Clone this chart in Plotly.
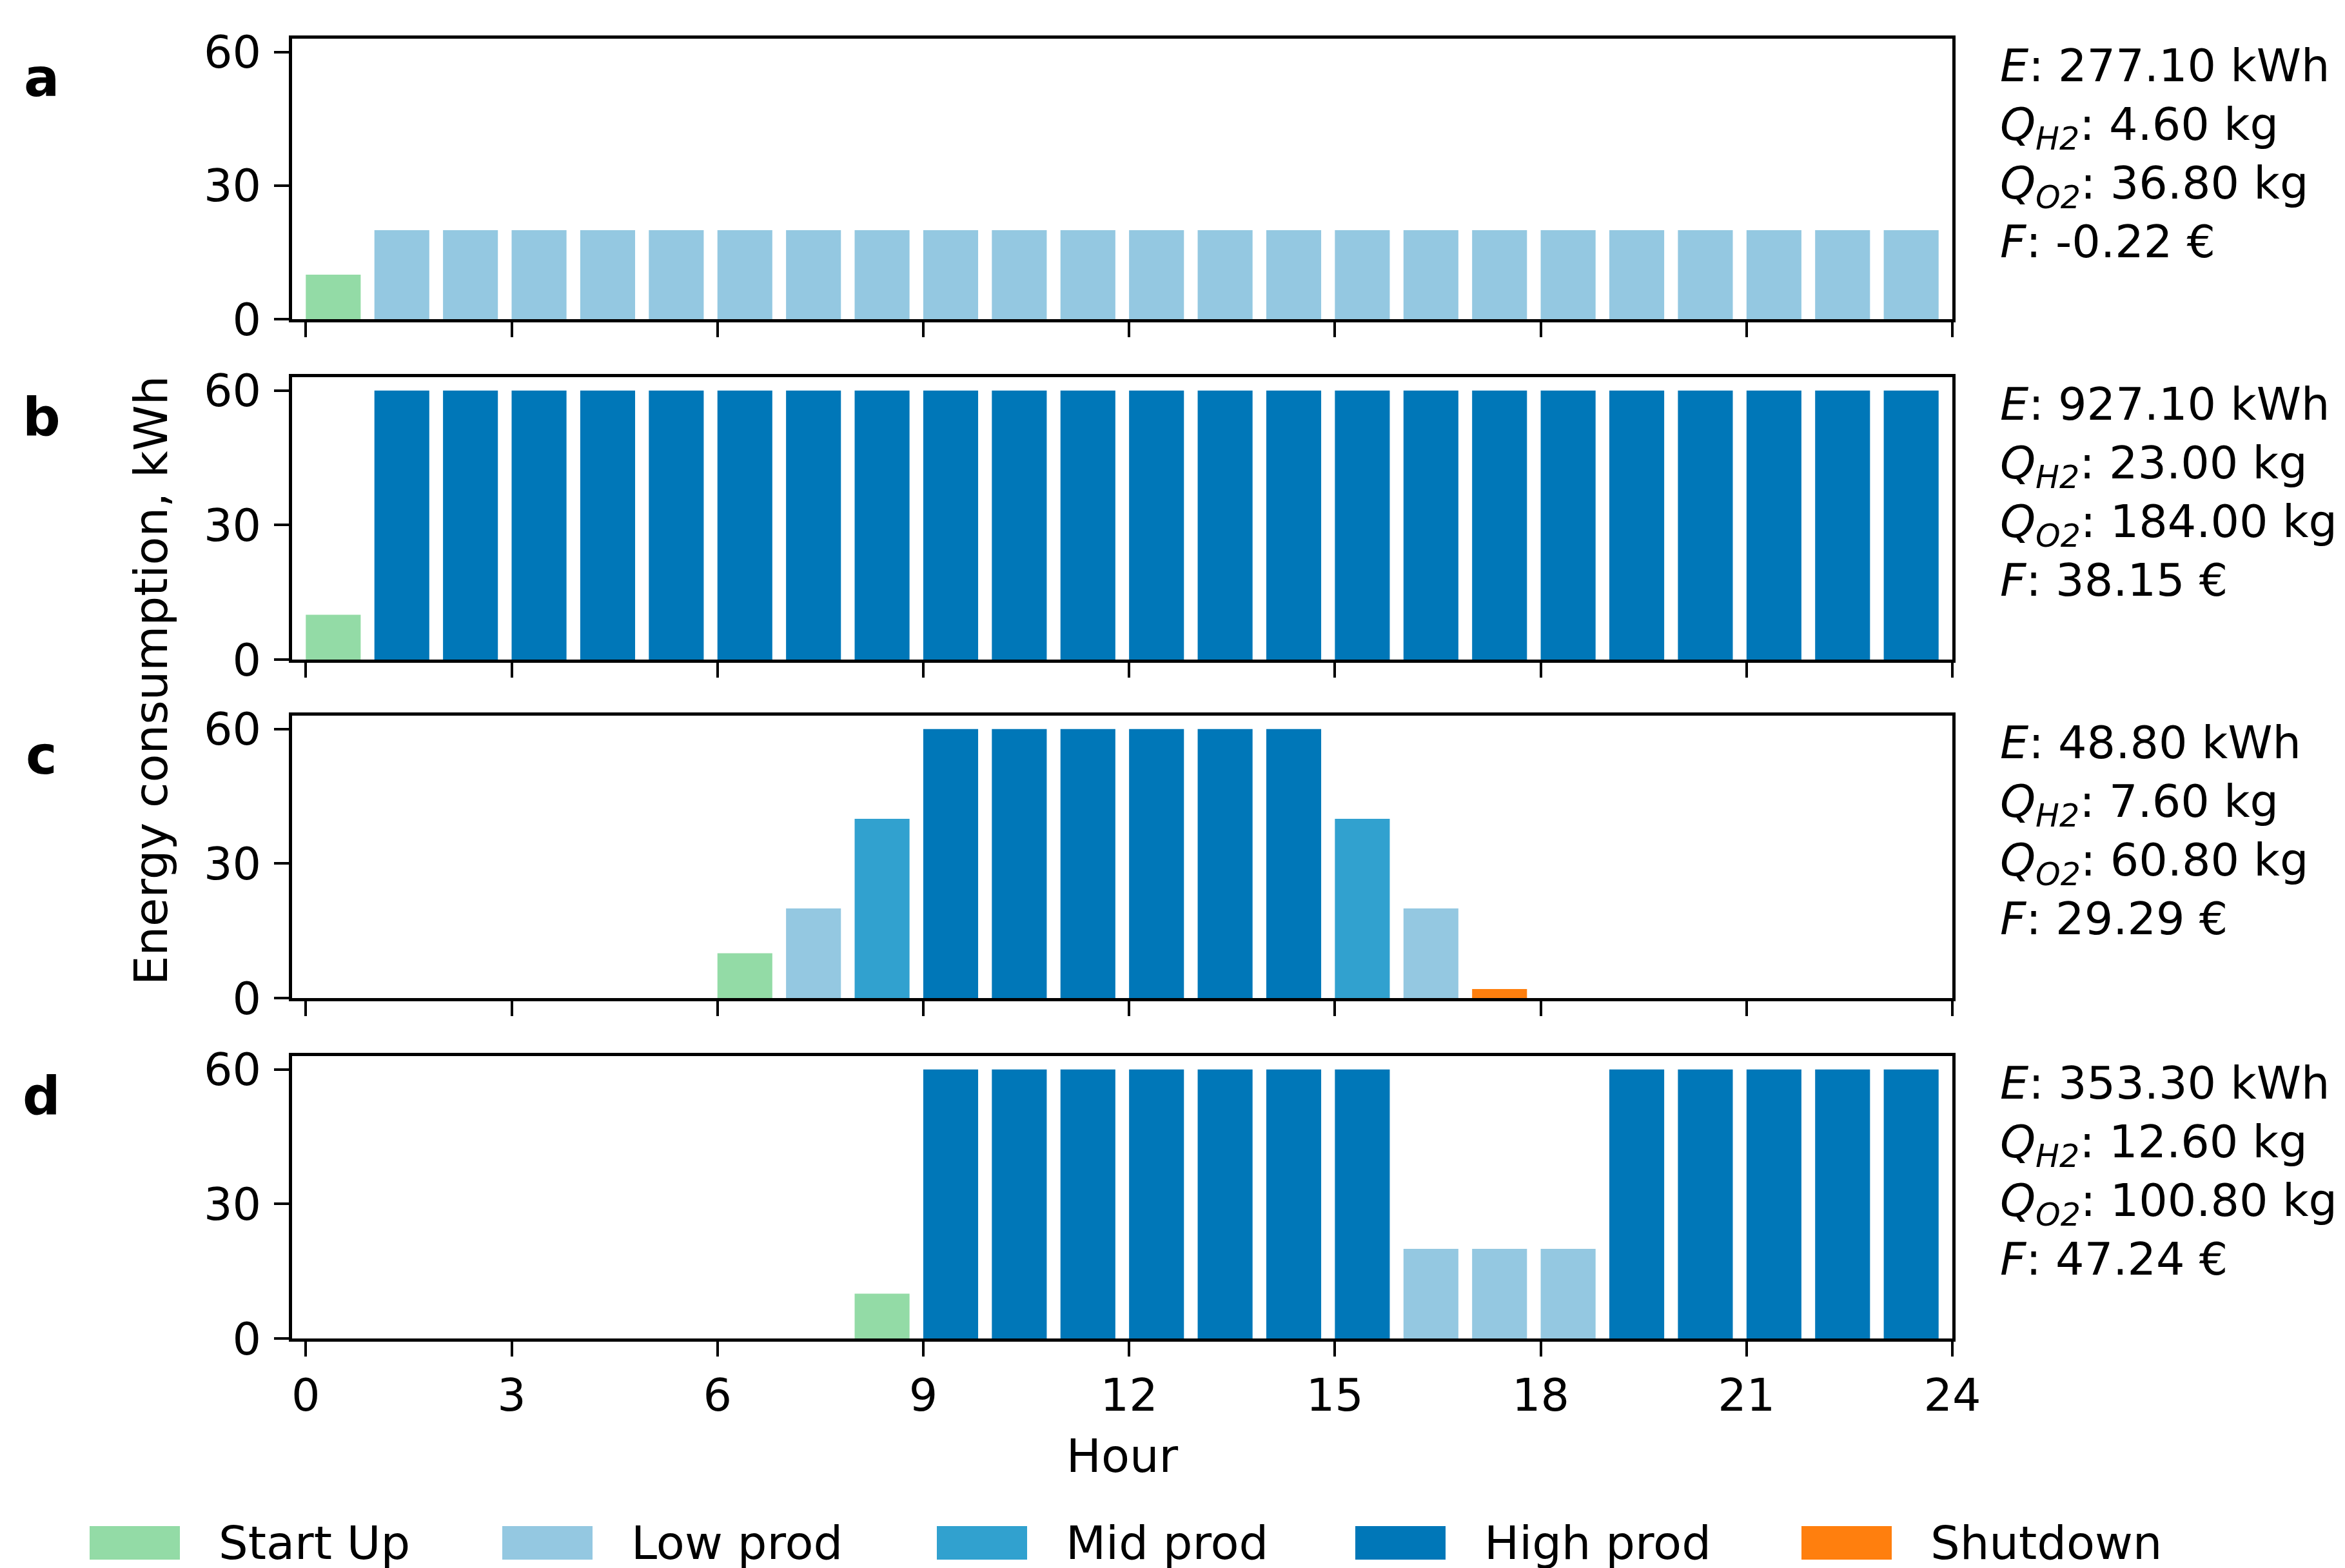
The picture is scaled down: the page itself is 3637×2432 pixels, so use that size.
import plotly.graph_objects as go

# ---------------- data ----------------
hours = list(range(24))
panel_letters = ["a", "b", "c", "d"]

state_names = ["Start Up", "Low prod", "Mid prod", "High prod", "Shutdown"]
state_codes = ["SU", "LP", "MP", "HP", "SD"]
state_colors = ["#93dba6", "#94c8e1", "#31a1cf", "#0077b8", "#ff7f0e"]

energy_a = [10, 20, 20, 20, 20, 20, 20, 20, 20, 20, 20, 20,
            20, 20, 20, 20, 20, 20, 20, 20, 20, 20, 20, 20]
state_a = ["SU", "LP", "LP", "LP", "LP", "LP", "LP", "LP", "LP", "LP", "LP", "LP",
           "LP", "LP", "LP", "LP", "LP", "LP", "LP", "LP", "LP", "LP", "LP", "LP"]

energy_b = [10, 60, 60, 60, 60, 60, 60, 60, 60, 60, 60, 60,
            60, 60, 60, 60, 60, 60, 60, 60, 60, 60, 60, 60]
state_b = ["SU", "HP", "HP", "HP", "HP", "HP", "HP", "HP", "HP", "HP", "HP", "HP",
           "HP", "HP", "HP", "HP", "HP", "HP", "HP", "HP", "HP", "HP", "HP", "HP"]

energy_c = [0, 0, 0, 0, 0, 0, 10, 20, 40, 60, 60, 60,
            60, 60, 60, 40, 20, 2, 0, 0, 0, 0, 0, 0]
state_c = ["", "", "", "", "", "", "SU", "LP", "MP", "HP", "HP", "HP",
           "HP", "HP", "HP", "MP", "LP", "SD", "", "", "", "", "", ""]

energy_d = [0, 0, 0, 0, 0, 0, 0, 0, 10, 60, 60, 60,
            60, 60, 60, 60, 20, 20, 20, 60, 60, 60, 60, 60]
state_d = ["", "", "", "", "", "", "", "", "SU", "HP", "HP", "HP",
           "HP", "HP", "HP", "HP", "LP", "LP", "LP", "HP", "HP", "HP", "HP", "HP"]

E_kwh = ["277.10", "927.10", "48.80", "353.30"]
Q_h2 = ["4.60", "23.00", "7.60", "12.60"]
Q_o2 = ["36.80", "184.00", "60.80", "100.80"]
F_eur = ["-0.22", "38.15", "29.29", "47.24"]

x_ticks = [0, 3, 6, 9, 12, 15, 18, 21, 24]
y_ticks = [0, 30, 60]

panel_energy = [energy_a, energy_b, energy_c, energy_d]
panel_state = [state_a, state_b, state_c, state_d]

# ---------------- layout geometry (pixels) ----------------
W, H = 3637, 2432
FONT = "DejaVu Sans"
TXT = 70
x_dom = [445 / W, 3020 / W]
panel_px = [(52, 487), (577, 1015), (1102, 1540), (1630, 2068)]  # top, bottom
y_doms = [[1 - b / H, 1 - t / H] for (t, b) in panel_px]
legend_swatch_x = [131, 771, 1445, 2094, 2786]
legend_swatch_w, legend_swatch_h = 140, 52
legend_text_dx = 198
legend_y = 2385


def ital(s):
    return '<span style="font-style:italic;font-size:%dpx">%s</span>' % (TXT, s)


fig = go.Figure()

for code, name, color in zip(state_codes, state_names, state_colors):
    for p in range(4):
        xs = [h for h, s in zip(hours, panel_state[p]) if s == code]
        ys = [e for e, s in zip(panel_energy[p], panel_state[p]) if s == code]
        if not xs:
            continue
        sfx = "" if p == 0 else str(p + 1)
        fig.add_trace(go.Bar(
            x=xs, y=ys, name=name, legendgroup=name, showlegend=False,
            marker=dict(color=color, line=dict(width=0)),
            width=0.8, offset=0,
            xaxis="x" + sfx, yaxis="y" + sfx,
        ))

axis_common = dict(
    showline=True, linecolor="black", linewidth=5, mirror=True,
    ticks="outside", ticklen=23, tickwidth=4, tickcolor="black",
    showgrid=False, zeroline=False, automargin=False,
    tickfont=dict(family=FONT, size=70, color="black"),
)

layout = dict(
    width=W, height=H,
    margin=dict(l=0, r=0, t=0, b=0, autoexpand=False),
    paper_bgcolor="white", plot_bgcolor="white",
    barmode="overlay",
    font=dict(family=FONT, size=72, color="black"),
    showlegend=False,
)

annotations = []
shapes = []
for p in range(4):
    sfx = "" if p == 0 else str(p + 1)
    xa = dict(axis_common, domain=x_dom, anchor="y" + sfx, range=[-0.2, 24],
              tickvals=x_ticks, showticklabels=(p == 3))
    ya = dict(axis_common, domain=y_doms[p], anchor="x" + sfx, range=[0, 63],
              tickvals=y_ticks, ticklabelstandoff=6)
    if p == 3:
        xa["title"] = dict(text="Hour", font=dict(family=FONT, size=72, color="black"),
                           standoff=30)
    layout["xaxis" + sfx] = xa
    layout["yaxis" + sfx] = ya

    top, bot = panel_px[p]
    annotations.append(dict(
        text="<b>%s</b>" % panel_letters[p], xref="paper", yref="paper",
        x=56 / W, y=1 - (top + 61) / H, xanchor="center", yanchor="middle",
        showarrow=False, font=dict(family=FONT, size=82, color="black"),
    ))
    block = "<br>".join([
        ital("E") + ": %s kWh" % E_kwh[p],
        ital("Q") + "<sub><i>H2</i></sub>: %s kg" % Q_h2[p],
        ital("Q") + "<sub><i>O2</i></sub>: %s kg" % Q_o2[p],
        ital("F") + ": %s €" % F_eur[p],
    ])
    annotations.append(dict(
        text=block, xref="paper", yref="paper",
        x=3092 / W, y=1 - (top - 1) / H,
        xanchor="left", yanchor="top", align="left", showarrow=False,
        font=dict(family=FONT, size=TXT, color="black"),
    ))

annotations.append(dict(
    text="Energy consumption, kWh", xref="paper", yref="paper",
    x=226 / W, y=1 - 1048 / H, xanchor="center", yanchor="middle",
    textangle=-90, showarrow=False, font=dict(family=FONT, size=72, color="black"),
))

# legend drawn as swatches + labels (colours/names from the state arrays)
for sx, name, color in zip(legend_swatch_x, state_names, state_colors):
    shapes.append(dict(
        type="rect", xref="paper", yref="paper",
        x0=sx / W, x1=(sx + legend_swatch_w) / W,
        y0=1 - (legend_y + legend_swatch_h / 2) / H, y1=1 - (legend_y - legend_swatch_h / 2) / H,
        fillcolor=color, line=dict(width=0),
    ))
    annotations.append(dict(
        text=name, xref="paper", yref="paper",
        x=(sx + legend_text_dx) / W, y=1 - legend_y / H,
        xanchor="left", yanchor="middle", showarrow=False,
        font=dict(family=FONT, size=72, color="black"),
    ))

layout["annotations"] = annotations
layout["shapes"] = shapes

fig.update_layout(layout)
fig.write_html("out.html")
